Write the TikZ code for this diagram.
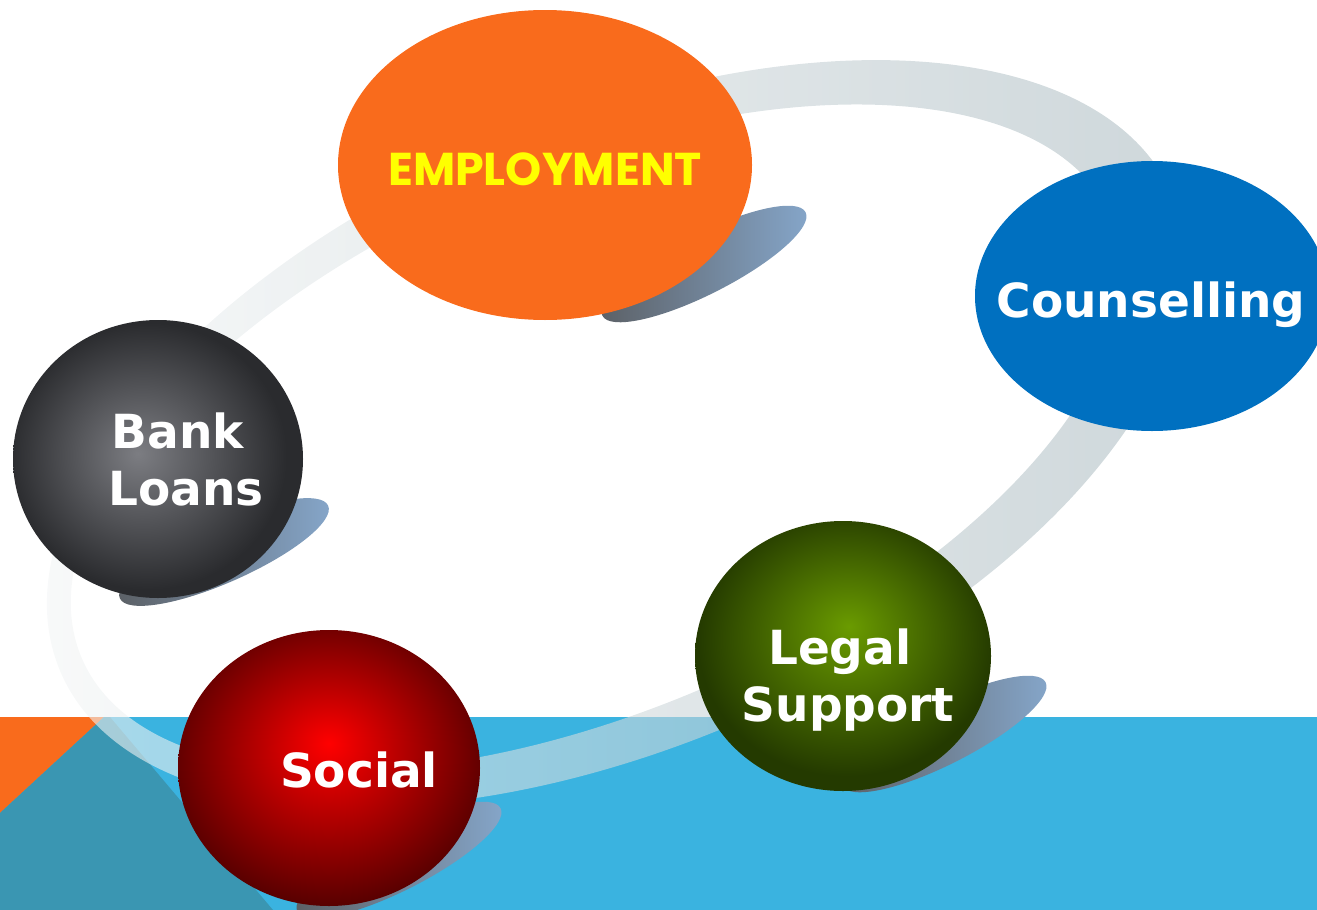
\documentclass[tikz,border=0pt]{standalone}
\usepackage{fontspec}
\setmainfont{DejaVu Sans}
\newfontfamily\empfont{Poppins}
\usetikzlibrary{shapes.geometric}

\definecolor{empOrange}{HTML}{F96B1C}
\definecolor{empYellow}{HTML}{FFFF00}
\definecolor{counselBlue}{HTML}{0070C0}
\definecolor{seaBlue}{HTML}{3AB3E0}
\definecolor{seaTeal}{HTML}{3A96B2}
\definecolor{ringLeft}{RGB}{246,248,248}
\definecolor{ringRight}{RGB}{170,186,192}
\definecolor{shadowDark}{HTML}{5B5F64}
\definecolor{shadowBlue}{HTML}{86A7CB}
\definecolor{bankHi}{RGB}{124,125,130}
\definecolor{bankLo}{RGB}{42,43,46}
\definecolor{socialHi}{RGB}{255,0,0}
\definecolor{socialLo}{RGB}{88,0,0}
\definecolor{legalHi}{RGB}{106,155,0}
\definecolor{legalLo}{RGB}{36,58,0}

\pgfdeclareradialshading{bankball}{\pgfpoint{-3.5bp}{1bp}}{color(0bp)=(bankHi); color(24bp)=(bankLo); color(50bp)=(bankLo)}
\pgfdeclareradialshading{socialball}{\pgfpoint{0bp}{4.5bp}}{color(0bp)=(socialHi); color(27bp)=(socialLo); color(50bp)=(socialLo)}
\pgfdeclareradialshading{legalball}{\pgfpoint{1bp}{5.5bp}}{color(0bp)=(legalHi); color(25bp)=(legalLo); color(50bp)=(legalLo)}

\begin{document}
\begin{tikzpicture}[%
    x=1pt, y=-1pt,      % pixel grid, y runs down
    ]
\tikzset{
  ball/.style={ellipse, draw=none, inner sep=0pt},
  flatball/.style={ball, fill=#1},
  shadeball/.style={ball, shade, shading=#1},
  balltext/.style={text=white, inner sep=0pt, align=center, font=\fontsize{47}{57}\selectfont\bfseries},
  emptext/.style={text=empYellow, inner sep=0pt, font=\empfont\fontsize{46}{50}\selectfont\bfseries},
  blob/.style={left color=shadowDark, right color=shadowBlue},
  ring/.style={left color=ringLeft, right color=ringRight, fill opacity=0.6, even odd rule}
}
\useasboundingbox (0,0) rectangle (1317,910);
\clip (0,0) rectangle (1317,910);

% background strip
\fill[seaBlue] (0,717) rectangle (1317,910);
\fill[empOrange] (0,717) -- (104,717) -- (0,813) -- cycle;
\fill[seaTeal] (104,717) -- (110,717) -- (273,910) -- (0,910) -- (0,813) -- cycle;

% the loop behind the balls
\shade[ring, rotate around={23.2:(615,430)}]
  (615,434) ellipse [x radius=605pt, y radius=313pt]
  (595,430) ellipse [x radius=560pt, y radius=272pt];

% shadows
\foreach \cx/\cy/\ang in {704/264/27, 224/552/24, 399/860/27, 944/734/27}
  \shade[blob, rotate around={\ang:(\cx,\cy)}] (\cx,\cy) ellipse [x radius=114pt, y radius=30pt];

% balls
\node[flatball=empOrange, minimum width=414pt, minimum height=310pt] (emp) at (545,165) {};
\node[flatball=counselBlue, minimum width=354pt, minimum height=270pt] (coun) at (1152,296) {};
\node[shadeball=bankball, minimum width=290pt, minimum height=278pt] (bank) at (158,459) {};
\node[shadeball=socialball, minimum width=302pt, minimum height=276pt] (soc) at (329,768) {};
\node[shadeball=legalball, minimum width=296pt, minimum height=270pt] (legal) at (843,656) {};

% labels
\node[emptext, anchor=base] (emp-txt) at (545,185) {EMPLOYMENT};
\node[balltext, anchor=base] (coun-txt) at (1151,317) {Counselling};
\node[balltext] (bank-txt) at (186,459) {Bank\kern.35em\\Loans};
\node[balltext, anchor=base] (soc-txt) at (359,787) {Social};
\node[balltext] (legal-txt) at (848,680) {Legal\kern.35em\\Support};
\end{tikzpicture}
\end{document}
